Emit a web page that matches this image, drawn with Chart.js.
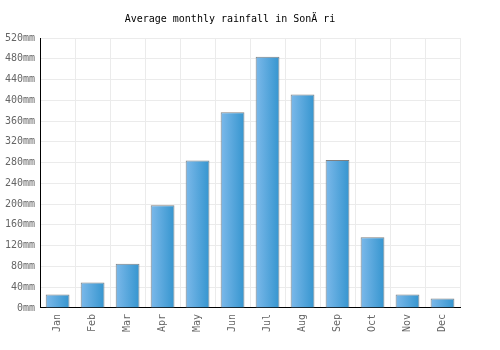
<!DOCTYPE html>
<html>
<head>
<meta charset="utf-8">
<script src="https://cdn.jsdelivr.net/npm/chart.js@4"></script>
<style>
  html, body { margin: 0; padding: 0; background: #fff; }
  #container { width: 500px; height: 350px; }
</style>
</head>
<body>
<div id="container"><canvas id="chart" width="500" height="350"></canvas></div>
<script>
"use strict";

const months = ['Jan', 'Feb', 'Mar', 'Apr', 'May', 'Jun', 'Jul', 'Aug', 'Sep', 'Oct', 'Nov', 'Dec'];
const rainfall = [26, 49, 85, 198, 284, 377, 484, 411, 285, 136, 26, 18];
const yTicks = [0, 40, 80, 120, 160, 200, 240, 280, 320, 360, 400, 440, 480, 520];

const font = "'DejaVu Sans Mono', monospace";
const barPercentage = 0.68;

// horizontal gradient on each bar, light on the left and darker on the right
const barFill = context => {
  const chart = context.chart;
  const xScale = chart.scales.x;
  if (!xScale || context.dataIndex === undefined) {
    return '#5aa8de';
  }
  const center = xScale.getPixelForValue(context.dataIndex);
  const half = xScale.width / months.length * barPercentage / 2;
  if (!isFinite(center) || !isFinite(half) || half <= 0) {
    return '#5aa8de';
  }
  const g = chart.ctx.createLinearGradient(center - half, 0, center + half, 0);
  g.addColorStop(0, '#7cb9ea');
  g.addColorStop(1, '#3595cf');
  return g;
};

document.addEventListener("DOMContentLoaded", function () {
  const canvasElement = document.getElementById("chart");
  const chart = new Chart(canvasElement, {
    type: 'bar',
    data: {
      labels: months,
      datasets: [{
        data: rainfall,
        backgroundColor: barFill,
        borderColor: '#808080',
        borderWidth: 1,
        borderSkipped: 'bottom',
        barPercentage: barPercentage,
        categoryPercentage: 1,
      }],
    },
    options: {
      responsive: false,
      animation: false,
      layout: { padding: { left: 0, right: 40, top: 0, bottom: 12 } },
      scales: {
        x: {
          grid: { color: '#ebebeb', lineWidth: 1, offset: true, drawTicks: false },
          border: { color: '#000', width: 1 },
          ticks: {
            color: '#666',
            font: { family: font, size: 10 },
            maxRotation: 90,
            minRotation: 90,
            padding: 6,
          },
        },
        y: {
          min: 0,
          max: 520,
          afterBuildTicks: axis => { axis.ticks = yTicks.map(v => ({ value: v })); },
          grid: { color: '#ebebeb', lineWidth: 1, drawTicks: false },
          border: { color: '#000', width: 1 },
          ticks: {
            color: '#666',
            font: { family: font, size: 10 },
            padding: 5,
            callback: v => v + 'mm',
          },
        },
      },
      plugins: {
        legend: { display: false },
        tooltip: { enabled: false },
        title: {
          display: true,
          text: 'Average monthly rainfall in SonÄ ri',
          color: '#000',
          font: { family: font, size: 10, weight: 'normal' },
          padding: { top: 13, bottom: 13 },
        },
      },
    },
  });
  // second pass so the gradients see the laid-out scale
  chart.update('none');
});
</script>
</body>
</html>
